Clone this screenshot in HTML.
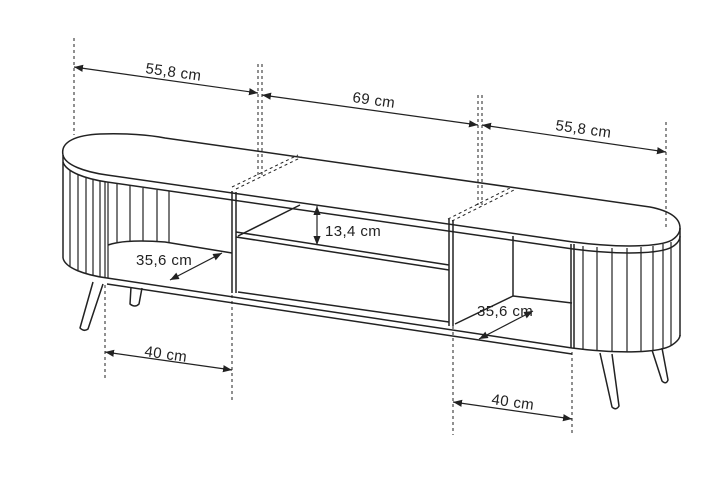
<!DOCTYPE html>
<html><head><meta charset="utf-8"><style>
html,body{margin:0;padding:0;background:#fff;}
svg{display:block;}
text{font-family:"Liberation Sans",sans-serif;font-size:15px;letter-spacing:0.4px;fill:#222;}
</style></head><body>
<svg width="722" height="477" viewBox="0 0 722 477" xmlns="http://www.w3.org/2000/svg">
<defs>
<marker id="a" viewBox="0 0 10 10" refX="10" refY="5" markerWidth="9" markerHeight="9" orient="auto-start-reverse" markerUnits="userSpaceOnUse"><path d="M0,1 L10,5 L0,9 z" fill="#222"/></marker>
</defs>
<g stroke="#222" fill="none" stroke-width="1" stroke-dasharray="3,3">
<line x1="74" y1="38" x2="74" y2="135"/>
<line x1="258" y1="64" x2="258" y2="175"/><line x1="262" y1="64" x2="262" y2="175"/>
<line x1="478" y1="95" x2="478" y2="205"/><line x1="482" y1="95" x2="482" y2="205"/>
<line x1="666" y1="122" x2="666" y2="230"/>
<line x1="232" y1="187" x2="298" y2="155"/><line x1="236" y1="189" x2="302" y2="157"/>
<line x1="448" y1="219" x2="510" y2="188"/><line x1="452" y1="221" x2="514" y2="190"/>
<line x1="105" y1="285" x2="105" y2="380"/>
<line x1="232" y1="295" x2="232" y2="400"/>
<line x1="453" y1="326" x2="453" y2="435"/>
<line x1="572" y1="352" x2="572" y2="435"/>
</g>
<g stroke="#222" fill="none" stroke-width="1.2">
<line x1="74" y1="67" x2="258" y2="93" marker-start="url(#a)" marker-end="url(#a)"/>
<line x1="262" y1="95" x2="478" y2="125" marker-start="url(#a)" marker-end="url(#a)"/>
<line x1="482" y1="125" x2="666" y2="152" marker-start="url(#a)" marker-end="url(#a)"/>
<line x1="105" y1="352" x2="232" y2="370" marker-start="url(#a)" marker-end="url(#a)"/>
<line x1="453" y1="402" x2="572" y2="419" marker-start="url(#a)" marker-end="url(#a)"/>
<line x1="317" y1="206" x2="317" y2="245" marker-start="url(#a)" marker-end="url(#a)"/>
<line x1="170" y1="280" x2="222" y2="253" marker-start="url(#a)" marker-end="url(#a)"/>
<line x1="479" y1="339" x2="533" y2="311" marker-start="url(#a)" marker-end="url(#a)"/>
</g>
<g stroke="#222" fill="none" stroke-width="1.5" stroke-linejoin="round">
<path d="M63,155 C60,141 78,135 100,134 C125,133 150,135 165,138 L650,207 C670,211 680,218 680,228"/>
<path d="M63,155 C65,165 85,172 107,175 L573,242 C620,248 660,247 672,240 C678,236 680,232 680,228"/>
<path d="M63,162 C66,172 86,179 107,182 L573,249 C620,255 660,254 672,247 C677,244 680,240 680,236"/>
<line x1="63" y1="155" x2="63" y2="258"/>
<line x1="680" y1="228" x2="680" y2="336"/>
<path d="M63,258 C65,268 85,275 107,278 L572,348 C620,354 660,353 672,345 C678,341 680,338 680,335"/>
<line x1="107" y1="284" x2="572" y2="354"/>
<line x1="238" y1="292" x2="449" y2="322"/>
<g stroke-width="1.2">
<line x1="70" y1="170" x2="70" y2="266"/><line x1="78" y1="174" x2="78" y2="270"/>
<line x1="86" y1="177" x2="86" y2="273"/><line x1="93" y1="179" x2="93" y2="275"/>
<line x1="100" y1="181" x2="100" y2="277"/>
<line x1="105" y1="182" x2="105" y2="278"/><line x1="108" y1="182" x2="108" y2="278"/>
<line x1="117" y1="184" x2="117" y2="242"/><line x1="130" y1="186" x2="130" y2="241"/>
<line x1="143" y1="188" x2="143" y2="241"/><line x1="157" y1="190" x2="157" y2="242"/>
<line x1="169" y1="191" x2="169" y2="243"/>
</g>
<path d="M108,245 C120,241 140,240 165,242 L232,253"/>
<line x1="232" y1="191" x2="232" y2="293"/><line x1="236" y1="192" x2="236" y2="293"/>
<line x1="236" y1="232" x2="449" y2="265"/><line x1="236" y1="237" x2="449" y2="270"/>
<line x1="238" y1="236" x2="300" y2="205"/>
<line x1="449" y1="219" x2="449" y2="326"/><line x1="453" y1="220" x2="453" y2="326"/>
<line x1="513" y1="236" x2="513" y2="296"/>
<line x1="513" y1="296" x2="572" y2="303"/>
<line x1="455" y1="324" x2="513" y2="296"/>
<line x1="571" y1="244" x2="571" y2="348"/><line x1="574" y1="244" x2="574" y2="348"/>
<g stroke-width="1.2">
<line x1="583" y1="246" x2="583" y2="350"/><line x1="597" y1="247" x2="597" y2="351"/>
<line x1="612" y1="248" x2="612" y2="352"/><line x1="627" y1="248" x2="627" y2="352"/>
<line x1="641" y1="247" x2="641" y2="351"/><line x1="653" y1="246" x2="653" y2="350"/>
<line x1="663" y1="244" x2="663" y2="348"/><line x1="671" y1="242" x2="671" y2="345"/>
</g>
<path d="M93,282 L80,328 Q84,332 88,329 L103,284"/>
<path d="M131,287 L130,304 Q135,308 139,304 L142,288"/>
<path d="M600,353 L612,407 Q616,411 619,406 L612,354"/>
<path d="M652,350 L662,381 Q666,385 668,380 L662,348"/>
</g>
<text transform="translate(145,73) rotate(8)">55,8 cm</text>
<text transform="translate(352,102) rotate(8)">69 cm</text>
<text transform="translate(555,130) rotate(8)">55,8 cm</text>
<text x="325" y="236">13,4 cm</text>
<text x="136" y="265">35,6 cm</text>
<text x="477" y="316">35,6 cm</text>
<text transform="translate(144,356) rotate(8)">40 cm</text>
<text transform="translate(491,404) rotate(8)">40 cm</text>
</svg>
</body></html>
